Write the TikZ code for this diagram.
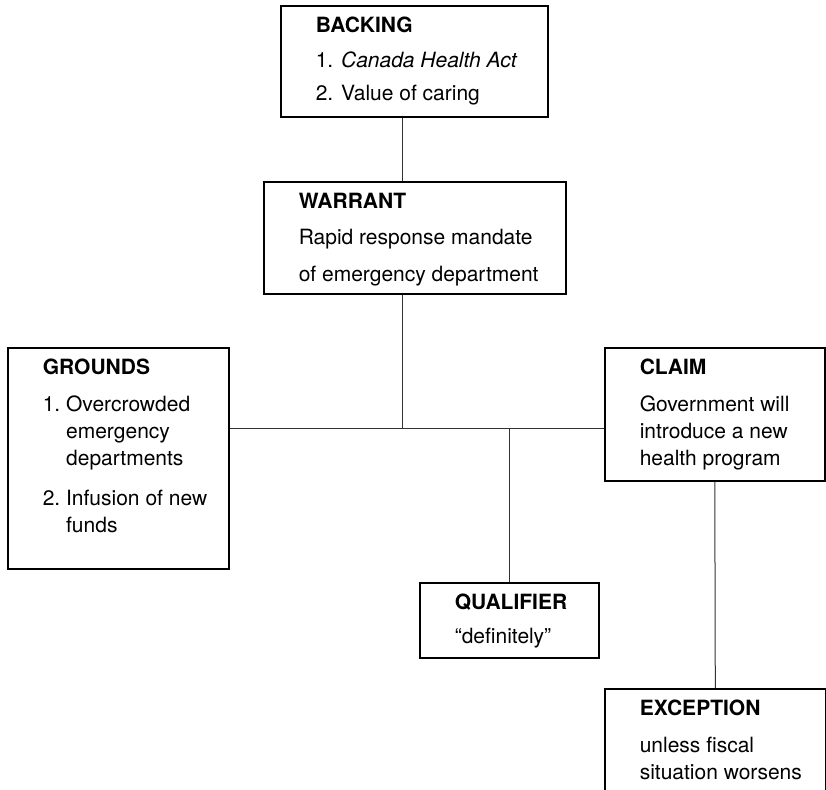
\documentclass[tikz,border=0pt]{standalone}
\usepackage{fontspec}
\setmainfont{TeX Gyre Heros}
\usepackage{tikz}
\usetikzlibrary{positioning}
\tikzstyle{card} = [rectangle, draw, line width=0.8pt, inner sep=0pt, anchor=north west, align=left, font=\fontsize{10.5}{13.5}\selectfont]
\tikzstyle{link} = [line width=0.5pt, color=black!80]
\newcommand{\cardtext}[3]{\hspace*{17.5pt}\begin{minipage}[t][#2][t]{\dimexpr#1-17.5pt\relax}\raggedright #3\end{minipage}}
\newcommand{\cardhead}[1]{\rule{0pt}{13.25pt}\textbf{#1}}
\newcommand{\itemind}{\phantom{1.~}}

\begin{document}
\begin{tikzpicture}[x=0.5pt, y=-0.5pt]
\useasboundingbox (0,0) rectangle (826,789);
% boxes
\node[card, minimum width=133.5pt, minimum height=55.5pt] (backing) at (280,5)
  {\cardtext{133.5pt}{55.5pt}{\cardhead{BACKING}\\[4pt]
   1. \textit{Canada Health Act}\\[3pt]
   2. Value of caring}};
\node[card, minimum width=151pt, minimum height=56pt] (warrant) at (263,181)
  {\cardtext{151pt}{56pt}{\cardhead{WARRANT}\\[4.5pt]
   Rapid response mandate\\[5pt]
   of emergency department}};
\node[card, minimum width=110.5pt, minimum height=110.5pt] (grounds) at (7,347)
  {\cardtext{110.5pt}{110.5pt}{\cardhead{GROUNDS}\\[5pt]
   1.~Overcrowded\\
   \itemind emergency\\
   \itemind departments\\[6.5pt]
   2.~Infusion of new\\
   \itemind funds}};
\node[card, minimum width=110pt, minimum height=66.5pt] (claim) at (604,347)
  {\cardtext{110pt}{66.5pt}{\cardhead{CLAIM}\\[5pt]
   Government will\\
   introduce a new\\
   health program}};
\node[card, minimum width=89.5pt, minimum height=37.5pt] (qualifier) at (419,582)
  {\cardtext{89.5pt}{37.5pt}{\cardhead{QUALIFIER}\\[3.5pt]
   “definitely”}};
\node[card, minimum width=110.5pt, minimum height=53pt] (exception) at (604,688)
  {\cardtext{110.5pt}{53pt}{\cardhead{EXCEPTION}\\[5pt]
   unless fiscal\\
   situation worsens}};

% connectors
\coordinate (hub) at (402,428);
\draw[link] (backing.south -| hub) -- (warrant.north -| hub);
\draw[link] (warrant.south -| hub) -- (hub);
\draw[link] (grounds.east |- hub) -- (claim.west |- hub);
\draw[link] (qualifier.north |- hub) -- (qualifier.north);
\draw[link] (claim.south) -- (exception.north);
\end{tikzpicture}
\end{document}
